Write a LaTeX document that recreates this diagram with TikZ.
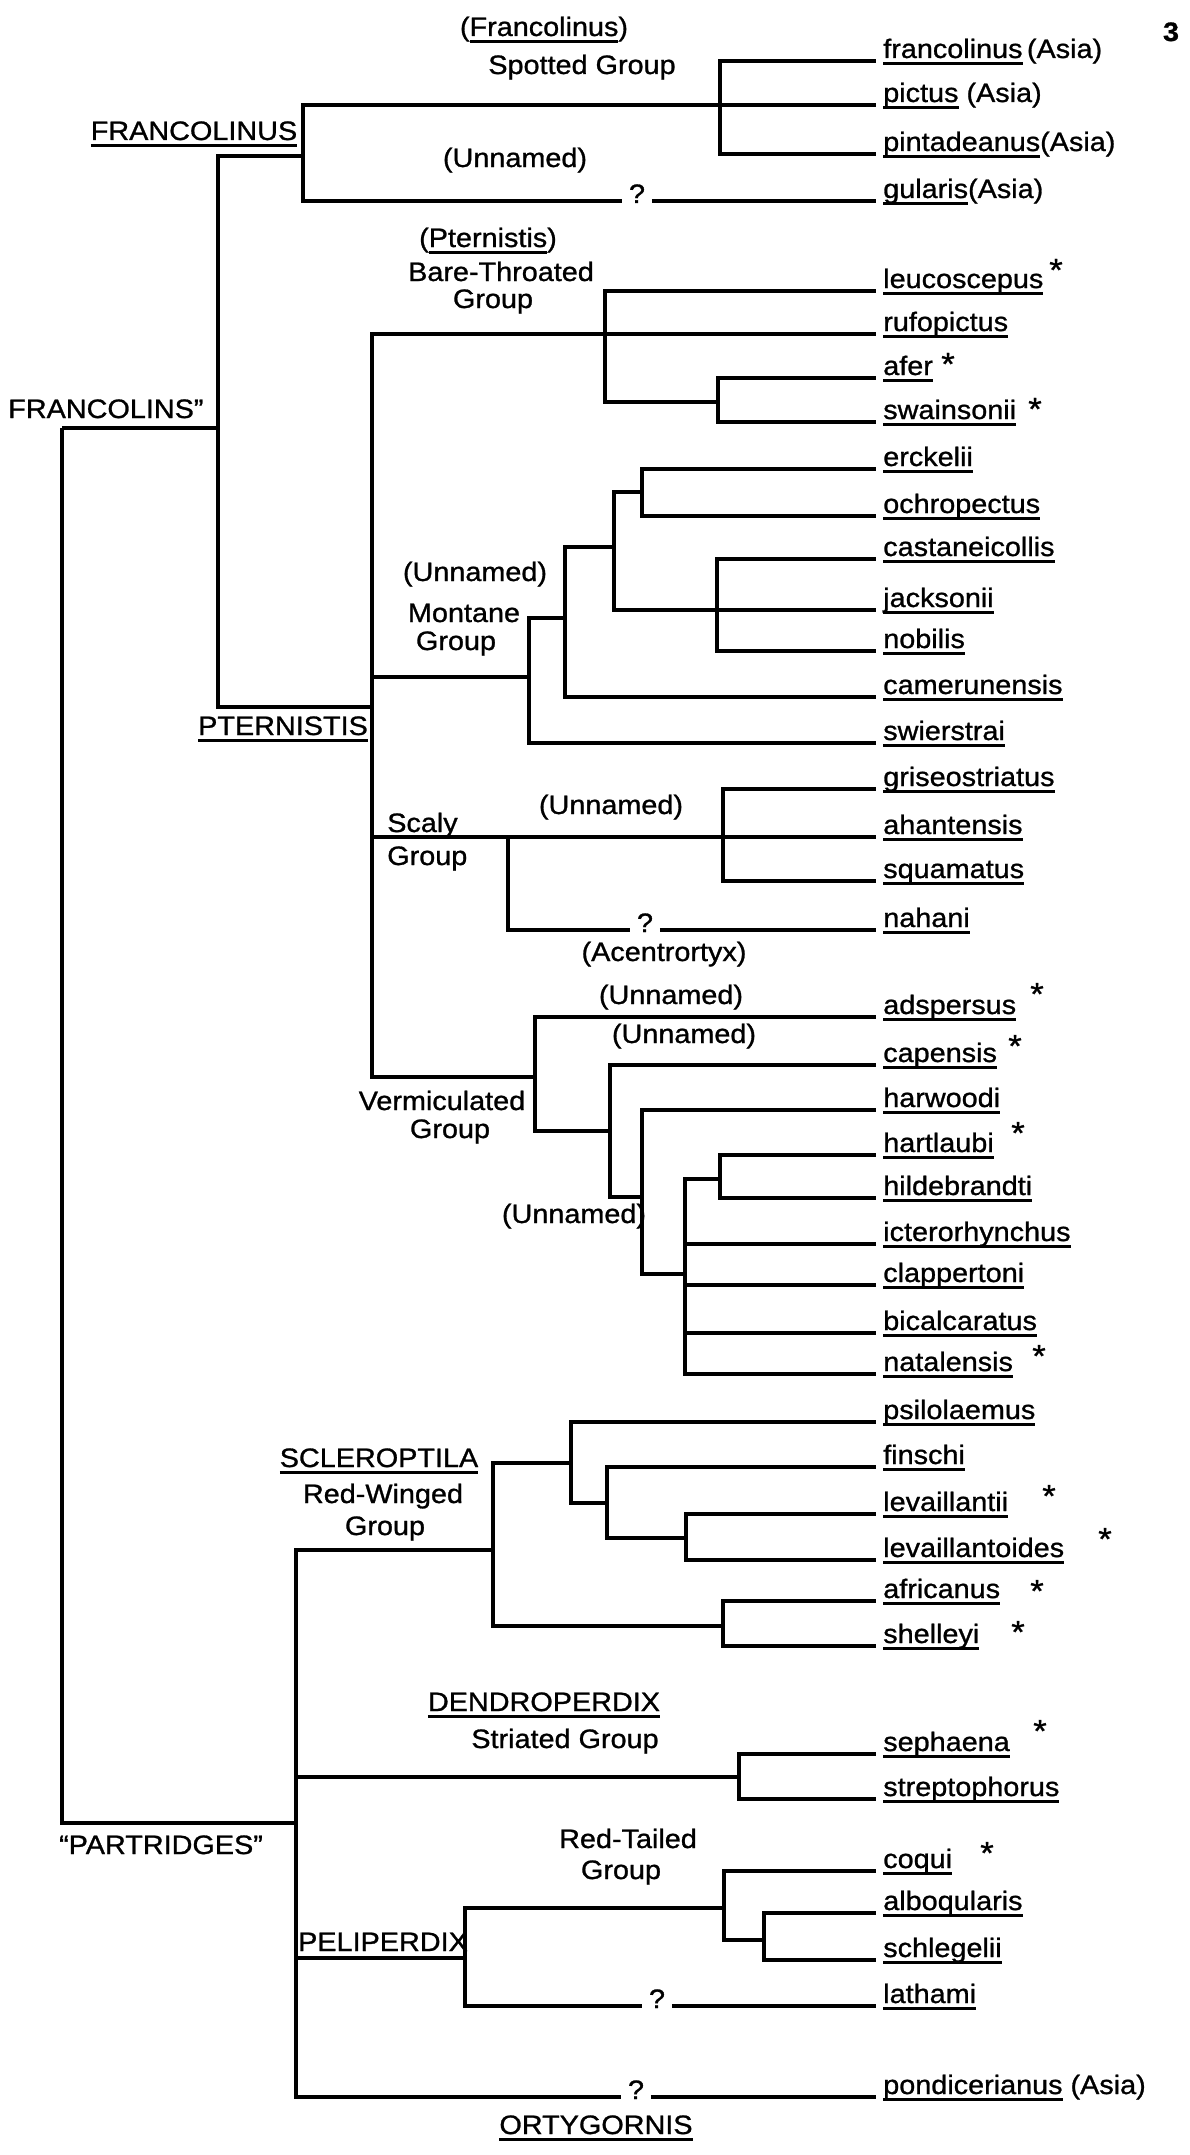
\documentclass[tikz,border=0pt]{standalone}
\usepackage{fontspec}
\setmainfont[FakeStretch=1.08,FakeBold=1]{Liberation Sans}
\usepackage{tikz}

\newcommand\undl[1]{\setbox0\hbox{#1}\rlap{\vrule width\wd0 height -3pt depth 5pt}\box0\relax}

\begin{document}
\begin{tikzpicture}[x=0.75pt,y=0.75pt,yscale=-1,xscale=1,
  font=\fontsize{20}{24}\selectfont,
  br/.style={line width=2.3pt},
  leaf/.style={anchor=base west,inner sep=0pt},
  lbl/.style={anchor=base,inner sep=0pt},
  qm/.style={inner xsep=5pt,inner ysep=0pt,text height=0.75em,text depth=0.45em},
  star/.style={inner sep=0pt,font=\fontsize{24}{24}\selectfont}]
\path[use as bounding box,fill=white] (0,0) rectangle (1189,2155);

%Branch points
\coordinate (root) at (62,428);
\coordinate (francolins) at (218,428);
\coordinate (frn) at (303,156);
\coordinate (spotted) at (720,105);
\coordinate (pternistis) at (372,707);
\coordinate (bare) at (605,334);
\coordinate (bare2) at (718,402);
\coordinate (montane) at (529,677);
\coordinate (mont1) at (565,618);
\coordinate (mont2) at (614,547);
\coordinate (mont3) at (642,492);
\coordinate (mont4) at (717,610);
\coordinate (scaly) at (508,837);
\coordinate (scaly2) at (723,837);
\coordinate (verm) at (535,1077);
\coordinate (verm1) at (610,1131);
\coordinate (verm2) at (642,1197);
\coordinate (verm3) at (685,1274);
\coordinate (verm4) at (720,1179);
\coordinate (partridges) at (296,1823);
\coordinate (sclero) at (493,1550);
\coordinate (red1) at (571,1463);
\coordinate (red2) at (607,1503);
\coordinate (red3) at (686,1538);
\coordinate (red4) at (723,1626);
\coordinate (dendro) at (739,1777);
\coordinate (peli) at (465,1958);
\coordinate (peli1) at (724,1908);
\coordinate (peli2) at (764,1940);

% Question marks
\node[qm] (q-gularis) at (637,201) {?};
\node[qm] (q-nahani) at (645,930) {?};
\node[qm] (q-lathami) at (657,2006) {?};
\node[qm] (q-pondicerianus) at (636,2097) {?};

% Leaves
\coordinate (t-francolinus) at (876,61); \node[leaf] (francolinus) at (883,58) {\undl{francolinus}\,(Asia)};
\coordinate (t-pictus) at (876,105); \node[leaf] (pictus) at (883,102) {\undl{pictus} (Asia)};
\coordinate (t-pintadeanus) at (876,154); \node[leaf] (pintadeanus) at (883,151) {\undl{pintadeanus}(Asia)};
\coordinate (t-gularis) at (876,201); \node[leaf] (gularis) at (883,198) {\undl{gularis}(Asia)};
\coordinate (t-leucoscepus) at (876,291); \node[leaf] (leucoscepus) at (883,288) {\undl{leucoscepus}};
\coordinate (t-rufopictus) at (876,334); \node[leaf] (rufopictus) at (883,331) {\undl{rufopictus}};
\coordinate (t-afer) at (876,378); \node[leaf] (afer) at (883,375) {\undl{afer}};
\coordinate (t-swainsonii) at (876,422); \node[leaf] (swainsonii) at (883,419) {\undl{swainsonii}};
\coordinate (t-erckelii) at (876,469); \node[leaf] (erckelii) at (883,466) {\undl{erckelii}};
\coordinate (t-ochropectus) at (876,516); \node[leaf] (ochropectus) at (883,513) {\undl{ochropectus}};
\coordinate (t-castaneicollis) at (876,559); \node[leaf] (castaneicollis) at (883,556) {\undl{castaneicollis}};
\coordinate (t-jacksonii) at (876,610); \node[leaf] (jacksonii) at (883,607) {\undl{jacksonii}};
\coordinate (t-nobilis) at (876,651); \node[leaf] (nobilis) at (883,648) {\undl{nobilis}};
\coordinate (t-camerunensis) at (876,697); \node[leaf] (camerunensis) at (883,694) {\undl{camerunensis}};
\coordinate (t-swierstrai) at (876,743); \node[leaf] (swierstrai) at (883,740) {\undl{swierstrai}};
\coordinate (t-griseostriatus) at (876,789); \node[leaf] (griseostriatus) at (883,786) {\undl{griseostriatus}};
\coordinate (t-ahantensis) at (876,837); \node[leaf] (ahantensis) at (883,834) {\undl{ahantensis}};
\coordinate (t-squamatus) at (876,881); \node[leaf] (squamatus) at (883,878) {\undl{squamatus}};
\coordinate (t-nahani) at (876,930); \node[leaf] (nahani) at (883,927) {\undl{nahani}};
\coordinate (t-adspersus) at (876,1017); \node[leaf] (adspersus) at (883,1014) {\undl{adspersus}};
\coordinate (t-capensis) at (876,1065); \node[leaf] (capensis) at (883,1062) {\undl{capensis}};
\coordinate (t-harwoodi) at (876,1110); \node[leaf] (harwoodi) at (883,1107) {\undl{harwoodi}};
\coordinate (t-hartlaubi) at (876,1155); \node[leaf] (hartlaubi) at (883,1152) {\undl{hartlaubi}};
\coordinate (t-hildebrandti) at (876,1198); \node[leaf] (hildebrandti) at (883,1195) {\undl{hildebrandti}};
\coordinate (t-icterorhynchus) at (876,1244); \node[leaf] (icterorhynchus) at (883,1241) {\undl{icterorhynchus}};
\coordinate (t-clappertoni) at (876,1285); \node[leaf] (clappertoni) at (883,1282) {\undl{clappertoni}};
\coordinate (t-bicalcaratus) at (876,1333); \node[leaf] (bicalcaratus) at (883,1330) {\undl{bicalcaratus}};
\coordinate (t-natalensis) at (876,1374); \node[leaf] (natalensis) at (883,1371) {\undl{natalensis}};
\coordinate (t-psilolaemus) at (876,1422); \node[leaf] (psilolaemus) at (883,1419) {\undl{psilolaemus}};
\coordinate (t-finschi) at (876,1467); \node[leaf] (finschi) at (883,1464) {\undl{finschi}};
\coordinate (t-levaillantii) at (876,1514); \node[leaf] (levaillantii) at (883,1511) {\undl{levaillantii}};
\coordinate (t-levaillantoides) at (876,1560); \node[leaf] (levaillantoides) at (883,1557) {\undl{levaillantoides}};
\coordinate (t-africanus) at (876,1601); \node[leaf] (africanus) at (883,1598) {\undl{africanus}};
\coordinate (t-shelleyi) at (876,1646); \node[leaf] (shelleyi) at (883,1643) {\undl{shelleyi}};
\coordinate (t-sephaena) at (876,1754); \node[leaf] (sephaena) at (883,1751) {\undl{sephaena}};
\coordinate (t-streptophorus) at (876,1799); \node[leaf] (streptophorus) at (883,1796) {\undl{streptophorus}};
\coordinate (t-coqui) at (876,1871); \node[leaf] (coqui) at (883,1868) {\undl{coqui}};
\coordinate (t-alboqularis) at (876,1913); \node[leaf] (alboqularis) at (883,1910) {\undl{alboqularis}};
\coordinate (t-schlegelii) at (876,1960); \node[leaf] (schlegelii) at (883,1957) {\undl{schlegelii}};
\coordinate (t-lathami) at (876,2006); \node[leaf] (lathami) at (883,2003) {\undl{lathami}};
\coordinate (t-pondicerianus) at (876,2097); \node[leaf] (pondicerianus) at (883,2094) {\undl{pondicerianus} (Asia)};

% Asterisks
\node[star] (s-leucoscepus) at (1056,270) {*};
\node[star] (s-afer) at (948,364) {*};
\node[star] (s-swainsonii) at (1035,409) {*};
\node[star] (s-adspersus) at (1037,994) {*};
\node[star] (s-capensis) at (1015,1046) {*};
\node[star] (s-hartlaubi) at (1018,1133) {*};
\node[star] (s-natalensis) at (1039,1356) {*};
\node[star] (s-levaillantii) at (1049,1496) {*};
\node[star] (s-levaillantoides) at (1105,1539) {*};
\node[star] (s-africanus) at (1037,1591) {*};
\node[star] (s-shelleyi) at (1018,1632) {*};
\node[star] (s-sephaena) at (1040,1731) {*};
\node[star] (s-coqui) at (987,1853) {*};

%Straight Lines
\draw[br] (root) |- (francolins) (root) |- (partridges);
\draw[br] (francolins) |- (frn) (francolins) |- (pternistis);
\draw[br] (frn) |- (spotted) (frn) |- (q-gularis) (q-gularis) -- (t-gularis);
\draw[br] (spotted) |- (t-francolinus) (spotted) |- (t-pictus) (spotted) |- (t-pintadeanus);
\draw[br] (pternistis) |- (bare) (pternistis) |- (montane) (pternistis) |- (scaly) (pternistis) |- (verm);
\draw[br] (bare) |- (t-leucoscepus) (bare) |- (t-rufopictus) (bare) |- (bare2);
\draw[br] (bare2) |- (t-afer) (bare2) |- (t-swainsonii);
\draw[br] (montane) |- (mont1) (montane) |- (t-swierstrai);
\draw[br] (mont1) |- (mont2) (mont1) |- (t-camerunensis);
\draw[br] (mont2) |- (mont3) (mont2) |- (mont4);
\draw[br] (mont3) |- (t-erckelii) (mont3) |- (t-ochropectus);
\draw[br] (mont4) |- (t-castaneicollis) (mont4) |- (t-jacksonii) (mont4) |- (t-nobilis);
\draw[br] (scaly) |- (scaly2) (scaly) |- (q-nahani) (q-nahani) -- (t-nahani);
\draw[br] (scaly2) |- (t-griseostriatus) (scaly2) |- (t-ahantensis) (scaly2) |- (t-squamatus);
\draw[br] (verm) |- (t-adspersus) (verm) |- (verm1);
\draw[br] (verm1) |- (t-capensis) (verm1) |- (verm2);
\draw[br] (verm2) |- (t-harwoodi) (verm2) |- (verm3);
\draw[br] (verm3) |- (verm4) (verm3) |- (t-icterorhynchus) (verm3) |- (t-clappertoni) (verm3) |- (t-bicalcaratus) (verm3) |- (t-natalensis);
\draw[br] (verm4) |- (t-hartlaubi) (verm4) |- (t-hildebrandti);
\draw[br] (partridges) |- (sclero) (partridges) |- (dendro) (partridges) |- (peli) (partridges) |- (q-pondicerianus) (q-pondicerianus) -- (t-pondicerianus);
\draw[br] (sclero) |- (red1) (sclero) |- (red4);
\draw[br] (red1) |- (t-psilolaemus) (red1) |- (red2);
\draw[br] (red2) |- (t-finschi) (red2) |- (red3);
\draw[br] (red3) |- (t-levaillantii) (red3) |- (t-levaillantoides);
\draw[br] (red4) |- (t-africanus) (red4) |- (t-shelleyi);
\draw[br] (dendro) |- (t-sephaena) (dendro) |- (t-streptophorus);
\draw[br] (peli) |- (peli1) (peli) |- (q-lathami) (q-lathami) -- (t-lathami);
\draw[br] (peli1) |- (t-coqui) (peli1) |- (peli2);
\draw[br] (peli2) |- (t-alboqularis) (peli2) |- (t-schlegelii);

% Text Node
\node[lbl] (pagenum) at (1171,41) {\textbf{3}};
\node[lbl] (francolinusgen) at (544,36) {(\undl{Francolinus})};
\node[lbl] (spottedlbl) at (582,74) {Spotted Group};
\node[lbl] (unnamed1) at (515,167) {(Unnamed)};
\node[lbl] (francolinuslbl) at (194,140) {\undl{FRANCOLINUS}};
\node[lbl] (pternistisgen) at (488,247) {(\undl{Pternistis})};
\node[lbl] (barelbl) at (501,281) {Bare-Throated};
\node[lbl] (barelbl2) at (493,308) {Group};
\node[leaf] (francolinslbl) at (8,418) {FRANCOLINS”};
\node[lbl] (unnamed2) at (475,581) {(Unnamed)};
\node[lbl] (montanelbl) at (464,622) {Montane};
\node[lbl] (montanelbl2) at (456,650) {Group};
\node[lbl] (pternistislbl) at (283,735) {\undl{PTERNISTIS}};
\node[leaf] (scalylbl) at (387,832) {Scaly};
\node[leaf] (scalylbl2) at (387,865) {Group};
\node[lbl] (unnamed3) at (611,814) {(Unnamed)};
\node[lbl] (acentrortyx) at (664,961) {(Acentrortyx)};
\node[lbl] (unnamed4) at (671,1004) {(Unnamed)};
\node[lbl] (unnamed5) at (684,1043) {(Unnamed)};
\node[lbl] (vermlbl) at (442,1110) {Vermiculated};
\node[lbl] (vermlbl2) at (450,1138) {Group};
\node[lbl] (unnamed6) at (574,1223) {(Unnamed)};
\node[lbl] (sclerolbl) at (379,1467) {\undl{SCLEROPTILA}};
\node[lbl] (redwlbl) at (383,1503) {Red-Winged};
\node[lbl] (redwlbl2) at (385,1535) {Group};
\node[lbl] (dendrolbl) at (544,1711) {\undl{DENDROPERDIX}};
\node[lbl] (striatedlbl) at (565,1748) {Striated Group};
\node[lbl] (partridgeslbl) at (161,1854) {``PARTRIDGES''};
\node[lbl] (redtlbl) at (628,1848) {Red-Tailed};
\node[lbl] (redtlbl2) at (621,1879) {Group};
\node[lbl] (pelilbl) at (383,1951) {PELIPERDIX};
\node[lbl] (ortyglbl) at (596,2134) {\undl{ORTYGORNIS}};
\end{tikzpicture}
\end{document}
